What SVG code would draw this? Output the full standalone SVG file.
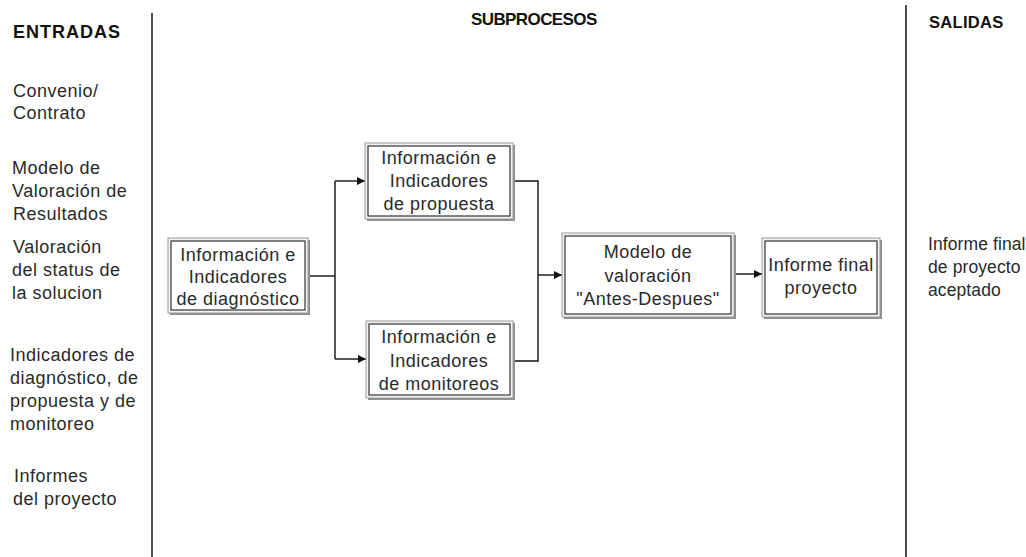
<svg xmlns="http://www.w3.org/2000/svg" width="1026" height="557" viewBox="0 0 1026 557">
  <style>
    .hdr { font-family: "Liberation Sans", Arial, sans-serif; font-weight: bold; fill: #111; }
    .side { font-family: "Liberation Sans", Arial, sans-serif; font-size: 18px; letter-spacing: 0.5px; fill: #2a2a2a; }
    .out { font-family: "Liberation Sans", Arial, sans-serif; font-size: 17.5px; letter-spacing: 0.1px; fill: #2a2a2a; }
    .lbl { font-family: "Liberation Sans", Arial, sans-serif; font-size: 18px; letter-spacing: 0.5px; fill: #2a2a2a; text-anchor: middle; }
    .rule { stroke: #222; stroke-width: 1.6; }
    .shadow { fill: #8f8f8f; }
    .outer { fill: #f2f2f2; stroke: #9a9a9a; stroke-width: 1; }
    .inner { fill: #ffffff; stroke: #333; stroke-width: 1.2; }
    .wire { fill: none; stroke: #111; stroke-width: 1.4; }
  </style>
  <defs>
    <marker id="arrow" viewBox="0 0 10 10" refX="10" refY="5" markerWidth="9" markerHeight="8" markerUnits="userSpaceOnUse" orient="auto">
      <path d="M0,0 L10,5 L0,10 Z" fill="#111"/>
    </marker>
  </defs>

  <rect width="1026" height="557" fill="#ffffff"/>

  <!-- column rules -->
  <line class="rule" x1="152" y1="13" x2="152" y2="557"/>
  <line class="rule" x1="906" y1="5" x2="906" y2="557"/>

  <!-- column headings -->
  <text class="hdr" x="13" y="38" font-size="18" letter-spacing="1">ENTRADAS</text>
  <text class="hdr" x="471" y="25" font-size="17" letter-spacing="-0.6">SUBPROCESOS</text>
  <text class="hdr" x="929" y="28" font-size="16.5" letter-spacing="0.3">SALIDAS</text>

  <!-- inputs -->
  <g id="inputs">
    <text class="side" x="13" y="97">Convenio/</text>
    <text class="side" x="13" y="119">Contrato</text>
    <text class="side" x="12" y="174">Modelo de</text>
    <text class="side" x="12" y="197">Valoración de</text>
    <text class="side" x="13" y="220">Resultados</text>
    <text class="side" x="13" y="253">Valoración</text>
    <text class="side" x="12" y="276">del status de</text>
    <text class="side" x="12" y="299">la solucion</text>
    <text class="side" x="10" y="361">Indicadores de</text>
    <text class="side" x="10" y="384">diagnóstico, de</text>
    <text class="side" x="10" y="407">propuesta y de</text>
    <text class="side" x="10" y="430">monitoreo</text>
    <text class="side" x="14" y="482">Informes</text>
    <text class="side" x="13" y="505">del proyecto</text>
  </g>

  <!-- outputs -->
  <g id="outputs">
    <text class="out" x="928" y="250">Informe final</text>
    <text class="out" x="928" y="273">de proyecto</text>
    <text class="out" x="928" y="296">aceptado</text>
  </g>

  <!-- connectors -->
  <g id="connectors">
    <polyline class="wire" points="308,276 335,276"/>
    <polyline class="wire" points="335,181 335,359"/>
    <polyline class="wire" points="335,181 365,181" marker-end="url(#arrow)"/>
    <polyline class="wire" points="335,359 366,359" marker-end="url(#arrow)"/>
    <polyline class="wire" points="513,181 538,181 538,361 513,361"/>
    <polyline class="wire" points="538,275 562,275" marker-end="url(#arrow)"/>
    <polyline class="wire" points="734,274 762,274" marker-end="url(#arrow)"/>
  </g>

  <!-- process boxes -->
  <g id="diagnostico">
    <rect class="shadow" x="170" y="240" width="140" height="75"/>
    <rect class="outer" x="168" y="238" width="140" height="75"/>
    <rect class="inner" x="171" y="241" width="134" height="69"/>
    <text class="lbl" x="238" y="261">Información e</text>
    <text class="lbl" x="238" y="283">Indicadores</text>
    <text class="lbl" x="238" y="305">de diagnóstico</text>
  </g>

  <g id="propuesta">
    <rect class="shadow" x="367" y="145" width="148" height="76"/>
    <rect class="outer" x="365" y="143" width="148" height="76"/>
    <rect class="inner" x="368" y="146" width="142" height="70"/>
    <text class="lbl" x="439" y="164">Información e</text>
    <text class="lbl" x="439" y="187">Indicadores</text>
    <text class="lbl" x="439" y="210">de propuesta</text>
  </g>

  <g id="monitoreos">
    <rect class="shadow" x="368" y="323" width="147" height="77"/>
    <rect class="outer" x="366" y="321" width="147" height="77"/>
    <rect class="inner" x="369" y="324" width="141" height="71"/>
    <text class="lbl" x="439" y="343">Información e</text>
    <text class="lbl" x="439" y="367">Indicadores</text>
    <text class="lbl" x="439" y="390">de monitoreos</text>
  </g>

  <g id="modelo">
    <rect class="shadow" x="564" y="235" width="172" height="84"/>
    <rect class="outer" x="562" y="233" width="172" height="84"/>
    <rect class="inner" x="565" y="236" width="166" height="78"/>
    <text class="lbl" x="648" y="258">Modelo de</text>
    <text class="lbl" x="648" y="282">valoración</text>
    <text class="lbl" x="648" y="305">"Antes-Despues"</text>
  </g>

  <g id="informe">
    <rect class="shadow" x="764" y="240" width="118" height="79"/>
    <rect class="outer" x="762" y="238" width="118" height="79"/>
    <rect class="inner" x="765" y="241" width="112" height="73"/>
    <text class="lbl" x="821" y="271">Informe final</text>
    <text class="lbl" x="821" y="294">proyecto</text>
  </g>
</svg>
